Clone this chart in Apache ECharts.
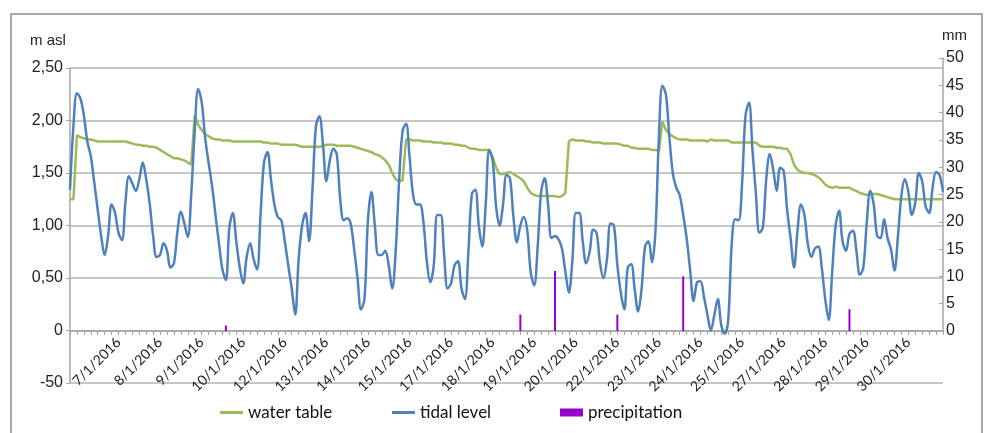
<!DOCTYPE html>
<html>
<head>
<meta charset="utf-8">
<script src="https://cdn.jsdelivr.net/npm/echarts@6/dist/echarts.min.js"></script>
<style>
  html, body { margin: 0; padding: 0; background: #fff; }
  #chart { width: 989px; height: 433px; }
</style>
</head>
<body>
<div id="chart"></div>
<script>
// date labels shown on the x axis (one every 12 samples, first at sample 14)
const tickLabels = ['7/1/2016', '8/1/2016', '9/1/2016', '10/1/2016', '12/1/2016', '13/1/2016',
  '14/1/2016', '15/1/2016', '17/1/2016', '18/1/2016', '19/1/2016', '20/1/2016', '22/1/2016',
  '23/1/2016', '24/1/2016', '25/1/2016', '27/1/2016', '28/1/2016', '29/1/2016', '30/1/2016'];
const firstLabel = 14;
const labelStep = 12;

// tidal level, m asl
const tidalLevel = [
  1.34, 1.95, 2.26, 2.21, 2.05, 1.80, 1.66, 1.41, 1.15, 0.90,
  0.72, 0.90, 1.20, 1.12, 0.93, 0.86, 1.22, 1.47, 1.40, 1.33,
  1.44, 1.60, 1.44, 1.21, 0.90, 0.70, 0.72, 0.83, 0.76, 0.60,
  0.64, 0.94, 1.13, 1.02, 0.89, 1.30, 1.90, 2.30, 2.18, 1.84,
  1.60, 1.38, 1.10, 0.83, 0.58, 0.48, 0.98, 1.12, 0.85, 0.60,
  0.45, 0.70, 0.83, 0.68, 0.58, 1.10, 1.60, 1.70, 1.44, 1.20,
  1.08, 1.05, 0.85, 0.62, 0.40, 0.15, 0.68, 1.00, 1.12, 0.85,
  1.35, 1.95, 2.04, 1.78, 1.42, 1.62, 1.73, 1.68, 1.25, 1.05,
  1.07, 1.02, 0.78, 0.50, 0.20, 0.30, 1.05, 1.32, 1.00, 0.72,
  0.72, 0.76, 0.62, 0.40, 0.75, 1.42, 1.90, 1.97, 1.66, 1.30,
  1.20, 1.20, 1.04, 0.66, 0.46, 0.62, 1.10, 1.10, 0.72, 0.40,
  0.45, 0.62, 0.66, 0.40, 0.30, 0.75, 1.30, 1.34, 1.00, 0.80,
  1.20, 1.72, 1.62, 1.18, 1.00, 1.20, 1.48, 1.45, 1.08, 0.84,
  1.00, 1.08, 0.95, 0.55, 0.43, 0.80, 1.32, 1.45, 1.20, 0.88,
  0.90, 0.87, 0.78, 0.56, 0.36, 0.66, 1.12, 1.12, 0.85, 0.64,
  0.75, 0.96, 0.93, 0.64, 0.50, 0.68, 1.02, 1.00, 0.62, 0.36,
  0.20, 0.60, 0.63, 0.39, 0.18, 0.40, 0.80, 0.85, 0.65, 0.95,
  1.85, 2.33, 2.25, 1.85, 1.50, 1.36, 1.29, 1.10, 0.88, 0.58,
  0.28, 0.46, 0.47, 0.32, 0.15, 0.00, 0.15, 0.30, 0.05, -0.03,
  0.10, 0.82, 1.06, 1.05, 1.40, 2.05, 2.17, 1.72, 1.30, 0.93,
  0.98, 1.45, 1.68, 1.53, 1.33, 1.55, 1.52, 1.15, 0.88, 0.60,
  0.95, 1.20, 1.10, 0.82, 0.70, 0.78, 0.80, 0.60, 0.30, 0.10,
  0.55, 1.00, 1.14, 0.85, 0.76, 0.92, 0.95, 0.76, 0.53, 0.60,
  1.03, 1.33, 1.20, 0.90, 0.88, 1.06, 0.88, 0.77, 0.57, 0.90,
  1.29, 1.44, 1.32, 1.10, 1.22, 1.50, 1.42, 1.18, 1.12, 1.36,
  1.51, 1.48, 1.32
];

// water table, m asl
const waterTable = [
  1.25, 1.25, 1.86, 1.84, 1.83, 1.82, 1.82, 1.81, 1.80, 1.80,
  1.80, 1.80, 1.80, 1.80, 1.80, 1.80, 1.80, 1.79, 1.78, 1.77,
  1.77, 1.76, 1.76, 1.75, 1.75, 1.74, 1.72, 1.70, 1.68, 1.66,
  1.64, 1.64, 1.63, 1.62, 1.60, 1.58, 2.05, 1.96, 1.91, 1.87,
  1.85, 1.83, 1.82, 1.82, 1.81, 1.81, 1.81, 1.80, 1.80, 1.80,
  1.80, 1.80, 1.80, 1.80, 1.80, 1.80, 1.79, 1.79, 1.78, 1.78,
  1.78, 1.77, 1.77, 1.77, 1.77, 1.77, 1.76, 1.75, 1.75, 1.75,
  1.75, 1.75, 1.75, 1.76, 1.77, 1.77, 1.77, 1.76, 1.76, 1.76,
  1.76, 1.76, 1.75, 1.74, 1.73, 1.72, 1.71, 1.70, 1.68, 1.67,
  1.65, 1.62, 1.58, 1.50, 1.44, 1.42, 1.43, 1.82, 1.82, 1.81,
  1.81, 1.81, 1.80, 1.80, 1.80, 1.79, 1.79, 1.79, 1.78, 1.78,
  1.78, 1.77, 1.77, 1.76, 1.76, 1.74, 1.73, 1.73, 1.72, 1.72,
  1.72, 1.72, 1.65, 1.55, 1.49, 1.49, 1.50, 1.51, 1.49, 1.47,
  1.45, 1.42, 1.36, 1.31, 1.29, 1.28, 1.28, 1.28, 1.28, 1.28,
  1.28, 1.27, 1.28, 1.31, 1.80, 1.82, 1.81, 1.81, 1.81, 1.80,
  1.80, 1.79, 1.79, 1.79, 1.78, 1.78, 1.78, 1.78, 1.78, 1.77,
  1.76, 1.76, 1.74, 1.74, 1.73, 1.73, 1.73, 1.73, 1.72, 1.72,
  1.71, 1.99, 1.91, 1.87, 1.85, 1.83, 1.82, 1.82, 1.82, 1.81,
  1.81, 1.81, 1.81, 1.81, 1.80, 1.82, 1.81, 1.81, 1.81, 1.81,
  1.81, 1.79, 1.79, 1.79, 1.79, 1.79, 1.79, 1.79, 1.79, 1.76,
  1.75, 1.75, 1.75, 1.75, 1.74, 1.74, 1.73, 1.73, 1.68, 1.58,
  1.53, 1.51, 1.50, 1.50, 1.49, 1.48, 1.46, 1.43, 1.39, 1.37,
  1.36, 1.37, 1.36, 1.36, 1.36, 1.36, 1.34, 1.33, 1.31, 1.30,
  1.29, 1.30, 1.30, 1.30, 1.29, 1.28, 1.27, 1.26, 1.25, 1.25,
  1.25, 1.25, 1.25, 1.25, 1.25, 1.25, 1.25, 1.25, 1.25, 1.25,
  1.25, 1.25, 1.25
];

// precipitation events: sample index and mm
const rainAt = [45, 130, 140, 158, 177, 225];
const rainMm = [1, 3, 11, 3, 10, 4];

const categories = tidalLevel.map((_, i) => {
  const k = (i - firstLabel) / labelStep;
  return (i >= firstLabel && Number.isInteger(k) && tickLabels[k]) ? tickLabels[k] : '';
});

const grey = '#a6a6a6';
const legendText = { fontFamily: 'Lato', fontSize: 17, color: '#111' };
const chart = echarts.init(document.getElementById('chart'));

chart.setOption({
  animation: false,
  backgroundColor: '#fff',
  textStyle: { fontFamily: 'Liberation Sans' },
  grid: [
    // main plot: -0,50 .. 2,50 m
    { left: 70, right: 46, top: 68, bottom: 50, containLabel: false, outerBoundsMode: 'none' },
    // secondary plot: 0 .. 50 mm, its bottom is the zero line of the main plot
    { left: 70, right: 46, top: 58, bottom: 102, containLabel: false, outerBoundsMode: 'none' }
  ],
  xAxis: [
    {
      type: 'category', gridIndex: 0, data: categories, boundaryGap: false,
      axisLine: { show: false }, axisTick: { show: false }, axisLabel: { show: false },
      splitLine: { show: false }
    },
    {
      type: 'category', gridIndex: 1, data: categories, boundaryGap: false, position: 'bottom',
      axisLine: { onZero: false, lineStyle: { color: grey, width: 1.5 } },
      axisTick: { interval: 1, length: 4, lineStyle: { color: grey } },
      axisLabel: {
        interval: 0, rotate: 45, margin: 9, color: '#222',
        fontFamily: 'Lato', fontSize: 14
      },
      splitLine: { show: false }
    }
  ],
  yAxis: [
    {
      type: 'value', gridIndex: 0, min: -0.5, max: 2.5, interval: 0.5,
      axisLine: { show: true, lineStyle: { color: grey, width: 1.5 } },
      axisTick: { show: true, length: 4, lineStyle: { color: grey } },
      axisLabel: {
        color: '#222', fontSize: 16, margin: 7,
        formatter: v => v === 0 ? '0' : (v < 0 ? '-50' : v.toFixed(2).replace('.', ','))
      },
      splitLine: { lineStyle: { color: '#b3b3b3', width: 1.5 } }
    },
    {
      type: 'value', gridIndex: 1, position: 'right', min: 0, max: 50, interval: 5,
      axisLine: { show: true, lineStyle: { color: grey, width: 1.5 } },
      axisTick: { show: true, inside: true, length: 4, lineStyle: { color: grey } },
      axisLabel: { color: '#222', fontSize: 16, margin: 3 },
      splitLine: { show: false }
    }
  ],
  legend: [
    {
      data: ['water table'], left: 215, top: 399, itemWidth: 23, itemHeight: 3, itemGap: 8,
      icon: 'rect', textStyle: legendText
    },
    {
      data: ['tidal level'], left: 387, top: 399, itemWidth: 23, itemHeight: 3,
      icon: 'rect', textStyle: legendText
    },
    {
      data: ['precipitation'], left: 555, top: 399, itemWidth: 23, itemHeight: 8,
      icon: 'rect', textStyle: legendText
    }
  ],
  graphic: [
    {
      type: 'rect', shape: { x: 11, y: 14, width: 971, height: 440 }, silent: true,
      style: { fill: 'none', stroke: '#8c8c8c', lineWidth: 1.5 }
    },
    { type: 'text', left: 30, top: 33, style: { text: 'm asl', font: '15px "Liberation Sans"', fill: '#222' } },
    { type: 'text', left: 942, top: 28, style: { text: 'mm', font: '15px "Liberation Sans"', fill: '#222' } }
  ],
  series: [
    {
      name: 'water table', type: 'line', xAxisIndex: 0, yAxisIndex: 0, data: waterTable,
      showSymbol: false, lineStyle: { color: '#9bbb59', width: 2.5 }, itemStyle: { color: '#9bbb59' }
    },
    {
      name: 'tidal level', type: 'line', xAxisIndex: 0, yAxisIndex: 0, data: tidalLevel,
      showSymbol: false, smooth: 0.35, lineStyle: { color: '#4f81bd', width: 2.5 }, itemStyle: { color: '#4f81bd' }
    },
    {
      name: 'precipitation', type: 'bar', xAxisIndex: 1, yAxisIndex: 1, barWidth: 2,
      data: rainAt.map((d, i) => [d, rainMm[i]]),
      itemStyle: { color: '#9900cc' }
    }
  ]
});
</script>
</body>
</html>
